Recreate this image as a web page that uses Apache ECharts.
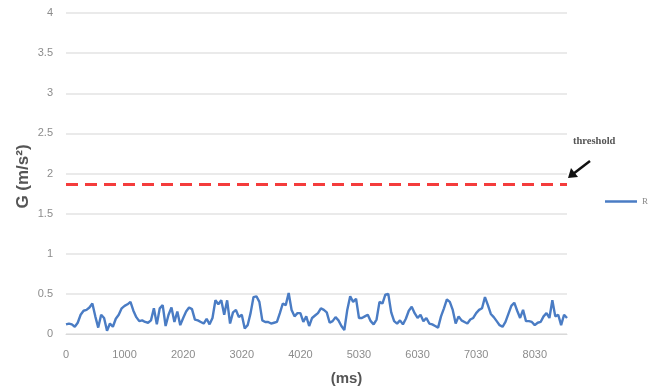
<!DOCTYPE html>
<html>
<head>
<meta charset="utf-8">
<script src="https://cdn.jsdelivr.net/npm/echarts@6/dist/echarts.min.js"></script>
<style>
  html, body { margin: 0; padding: 0; background: #fff; }
  #chart { width: 659px; height: 389px; }
</style>
</head>
<body>
<div id="chart"></div>
<script>
// tick labels shown on the time axis (one every 20 samples)
const tickLabels = [0, 1000, 2020, 3020, 4020, 5030, 6030, 7030, 8030];
const sampleStep = 50;
const samplesPerTick = 20;

// R, acceleration magnitude (m/s^2)
const rValues = [
  0.12, 0.13, 0.12, 0.09, 0.14, 0.24, 0.29, 0.30, 0.33, 0.38, 0.22, 0.08, 0.24, 0.20, 0.04, 0.13, 0.09, 0.19, 0.24, 0.32,
  0.35, 0.37, 0.40, 0.29, 0.21, 0.16, 0.17, 0.15, 0.14, 0.17, 0.32, 0.12, 0.32, 0.36, 0.10, 0.24, 0.33, 0.15, 0.28, 0.11,
  0.20, 0.28, 0.33, 0.31, 0.18, 0.17, 0.15, 0.13, 0.19, 0.12, 0.20, 0.42, 0.37, 0.42, 0.24, 0.42, 0.13, 0.27, 0.30, 0.21,
  0.24, 0.07, 0.11, 0.26, 0.46, 0.47, 0.40, 0.17, 0.15, 0.15, 0.13, 0.14, 0.15, 0.26, 0.38, 0.36, 0.51, 0.30, 0.22, 0.26,
  0.26, 0.15, 0.22, 0.10, 0.20, 0.23, 0.26, 0.32, 0.30, 0.27, 0.14, 0.16, 0.21, 0.17, 0.10, 0.05, 0.30, 0.47, 0.40, 0.44,
  0.20, 0.20, 0.22, 0.24, 0.16, 0.12, 0.18, 0.40, 0.38, 0.49, 0.50, 0.27, 0.16, 0.13, 0.17, 0.12, 0.19, 0.29, 0.34, 0.26,
  0.20, 0.24, 0.16, 0.20, 0.13, 0.12, 0.10, 0.08, 0.22, 0.32, 0.43, 0.40, 0.30, 0.13, 0.22, 0.17, 0.15, 0.13, 0.18, 0.20,
  0.26, 0.30, 0.32, 0.46, 0.36, 0.25, 0.21, 0.16, 0.11, 0.09, 0.15, 0.25, 0.35, 0.39, 0.29, 0.20, 0.30, 0.16, 0.16, 0.15,
  0.11, 0.14, 0.15, 0.22, 0.26, 0.20, 0.42, 0.22, 0.24, 0.11, 0.24, 0.20
];

const threshold = 1.87;

const timeCategories = rValues.map((v, i) =>
  String(tickLabels[Math.floor(i / samplesPerTick)] + (i % samplesPerTick) * sampleStep)
);

const chart = echarts.init(document.getElementById('chart'));

chart.setOption({
  animation: false,
  grid: { left: 66, right: 92, top: 13, bottom: 55, outerBoundsMode: 'none' },
  legend: {
    right: 6,
    top: 192,
    icon: 'path://M0,0 L32,0 L32,2.5 L0,2.5 Z',
    itemWidth: 32,
    itemHeight: 3,
    itemGap: 4,
    textStyle: { color: '#8a8a8a', fontSize: 9, fontFamily: 'Liberation Serif' },
    data: ['R'],
  },
  xAxis: {
    type: 'category',
    boundaryGap: false,
    data: timeCategories,
    name: '(ms)',
    nameLocation: 'middle',
    nameGap: 37,
    nameTextStyle: { color: '#555', fontSize: 15, fontWeight: 'bold', padding: [0, 0, 0, 60] },
    axisLine: { lineStyle: { color: '#d9d9d9' } },
    axisTick: { show: false },
    axisLabel: {
      interval: samplesPerTick - 1,
      color: '#8c8c8c',
      fontSize: 11,
      margin: 15,
      fontFamily: 'Liberation Sans',
    },
    splitLine: { show: false },
  },
  yAxis: {
    type: 'value',
    min: 0,
    max: 4,
    interval: 0.5,
    name: 'G (m/s²)',
    nameLocation: 'middle',
    nameGap: 34,
    nameRotate: 90,
    nameMoveOverlap: false,
    nameTextStyle: { color: '#555', fontSize: 17, fontWeight: 'bold', padding: [0, 0, 0, -6] },
    axisLine: { show: false },
    axisTick: { show: false },
    axisLabel: { color: '#8c8c8c', fontSize: 11, margin: 13, fontFamily: 'Liberation Sans' },
    splitLine: { lineStyle: { color: '#e3e3e3', width: 1.5 } },
  },
  series: [
    {
      name: 'R',
      type: 'line',
      data: rValues,
      showSymbol: false,
      color: '#4a7cc4',
      lineStyle: { width: 2.4, color: '#4a7cc4' },
      markLine: {
        silent: true,
        symbol: ['none', 'none'],
        label: { show: false },
        lineStyle: { color: '#f43c3c', type: [12, 7], width: 3 },
        data: [{ yAxis: threshold }],
      },
    },
  ],
});

// threshold annotation (text + arrow) placed next to the end of the threshold line
const endPt = chart.convertToPixel({ xAxisIndex: 0, yAxisIndex: 0 }, [timeCategories.length - 1, threshold]);
const tipX = endPt[0] + 1;
const tipY = endPt[1] - 6;
chart.setOption({
  graphic: [
    {
      type: 'text',
      left: tipX + 5,
      top: tipY - 42,
      style: { text: 'threshold', fill: '#555', font: 'bold 10.5px "Liberation Serif"' },
    },
    {
      type: 'line',
      shape: { x1: tipX + 5, y1: tipY - 4, x2: tipX + 22, y2: tipY - 17 },
      style: { stroke: '#111', lineWidth: 2.5 },
    },
    {
      type: 'polygon',
      shape: { points: [[tipX, tipY], [tipX + 3, tipY - 10], [tipX + 10, tipY - 1]] },
      style: { fill: '#111' },
    },
  ],
});
</script>
</body>
</html>
